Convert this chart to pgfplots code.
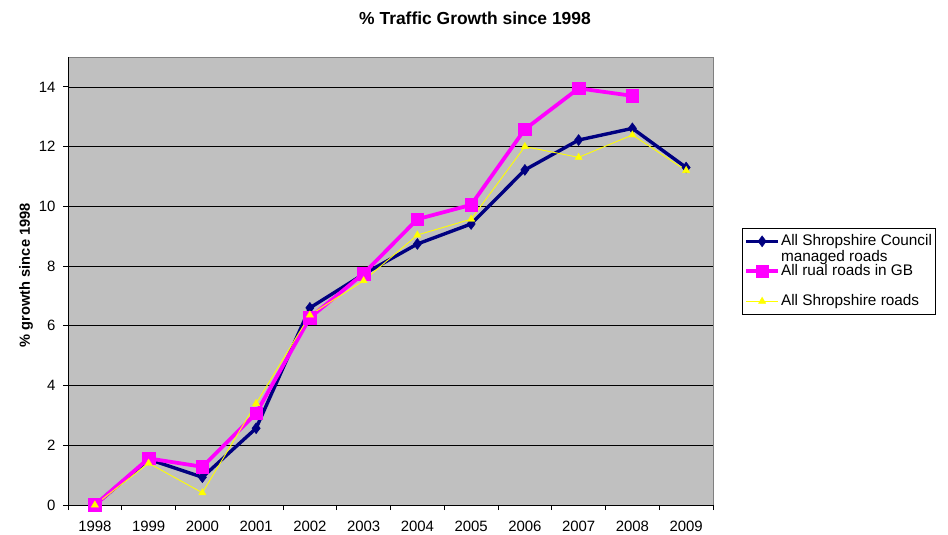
\documentclass[border=0pt]{standalone}
\usepackage{pgfplots}
\pgfplotsset{compat=1.18}
\usepackage{fontspec}
\setmainfont{Liberation Sans}
\definecolor{bgc}{HTML}{C0C0C0}
\definecolor{navy}{HTML}{000080}
\definecolor{mag}{HTML}{FF00FF}
\definecolor{yel}{HTML}{FFFF00}
\begin{document}
\begin{tikzpicture}
\useasboundingbox (0,0) rectangle (948bp,-535bp);
\node[font=\bfseries\fontsize{17.5}{20}\selectfont] at (475bp,-18bp) {\% Traffic Growth since 1998};
\begin{axis}[
  at={(68bp,-505bp)}, anchor=south west,
  scale only axis, width=645bp, height=448bp,
  xmin=-0.5, xmax=11.5, ymin=0, ymax=15,
  xtick={0,...,11},
  xticklabels={1998,1999,2000,2001,2002,2003,2004,2005,2006,2007,2008,2009},
  major x tick style={draw=none},
  minor xtick={-0.5,0.5,...,11.5},
  minor tick length=5bp,
  ytick={0,2,...,14},
  major tick length=5bp,
  tick align=outside,
  axis lines*=left,
  axis line style={black, line width=0.8pt},
  every tick/.style={black, line width=0.8pt},
  ymajorgrids,
  major grid style={black, line width=0.7pt},
  axis background/.style={fill=bgc, draw=gray, line width=0.8pt},
  ylabel={\bfseries\% growth since 1998},
  ylabel style={at={(axis description cs:-0.065,0.513)}, anchor=center, rotate=0, font=\fontsize{14.7}{16}\selectfont},
  xticklabel style={font=\fontsize{15}{17}\selectfont, yshift=-8bp},
  yticklabel style={font=\fontsize{15}{17}\selectfont, xshift=-4bp},
  /pgf/number format/assume math mode=true,
  legend style={at={(1.045,0.618)}, anchor=north west, draw=black, fill=white,
    font=\fontsize{15.4}{16}\selectfont, row sep=12bp, inner xsep=2bp, inner ysep=4bp,
    nodes={anchor=west, text height=11bp, text depth=3bp, inner xsep=1bp}},
  legend cell align=left,
  legend image code/.code={
    \draw[mark repeat=2,mark phase=2] plot coordinates {(0bp,0bp) (16bp,0bp) (32bp,0bp)};},
]
\addplot[navy, line width=3.4pt, mark=diamond*, mark size=5.5pt, mark options={line width=0.5pt}] coordinates {
(0,0) (1,1.53) (2,0.93) (3,2.57) (4,6.6) (5,7.73) (6,8.74) (7,9.41) (8,11.22) (9,12.22) (10,12.61) (11,11.3)};
\addlegendentry{\vtop{\baselineskip=16.5bp\hbox{All Shropshire Council}\hbox{managed roads}}}
\addplot[mag, line width=3.8pt, mark=square*, mark size=6.3pt, mark options={line width=0.5pt}] coordinates {
(0,0) (1,1.56) (2,1.28) (3,3.07) (4,6.27) (5,7.75) (6,9.57) (7,10.05) (8,12.58) (9,13.95) (10,13.7)};
\addlegendentry{All rual roads in GB}
\addplot[yel, line width=0.9pt, mark=triangle*, mark size=4.2pt, mark options={line width=0.4pt}] coordinates {
(0,0) (1,1.40) (2,0.41) (3,3.4) (4,6.36) (5,7.51) (6,9.04) (7,9.57) (8,12.0) (9,11.64) (10,12.39) (11,11.2)};
\addlegendentry{All Shropshire roads}
\end{axis}
\end{tikzpicture}
\end{document}
